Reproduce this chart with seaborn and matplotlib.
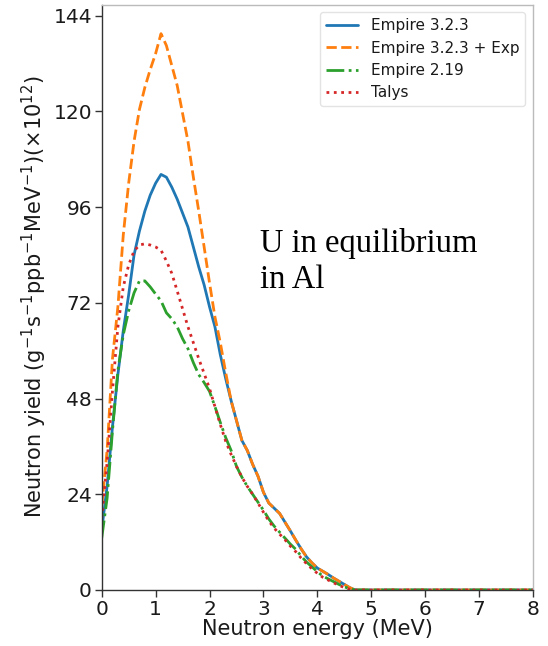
import matplotlib
matplotlib.use("Agg")
import matplotlib.pyplot as plt
import seaborn as sns
import pandas as pd

# ── data ──────────────────────────────────────────────────────────────────────
energy = [0.0, 0.1, 0.2, 0.3, 0.4, 0.5, 0.6, 0.7, 0.8, 0.9,
          1.0, 1.1, 1.2, 1.3, 1.4, 1.5, 1.6, 1.7, 1.8, 1.9,
          2.0, 2.1, 2.2, 2.3, 2.4, 2.5, 2.6, 2.7, 2.8, 2.9,
          3.0, 3.1, 3.2, 3.3, 3.4, 3.5, 3.6, 3.7, 3.8, 3.9,
          4.0, 4.1, 4.2, 4.3, 4.4, 4.5, 4.6, 4.7, 8.0]

empire323 = [15.0, 26.0, 41.0, 54.0, 65.0, 74.0, 84.0, 90.0, 95.0, 99.0,
             102.0, 104.2, 103.5, 101.0, 98.0, 94.5, 91.0, 86.0, 81.0, 76.5,
             71.0, 66.0, 59.0, 53.0, 47.5, 42.5, 37.5, 35.0, 31.5, 28.5,
             24.5, 21.8, 20.5, 19.2, 17.0, 14.8, 12.5, 10.3, 8.3, 6.8,
             5.5, 4.7, 3.9, 3.0, 2.2, 1.4, 0.6, 0.0, 0.0]

empire323_exp = [21.0, 35.0, 58.0, 71.0, 89.0, 102.0, 112.5, 120.5, 126.0, 130.5,
                 134.5, 139.5, 136.5, 131.5, 126.5, 119.5, 112.5, 103.5, 95.0, 86.0,
                 77.0, 68.5, 62.0, 54.5, 47.5, 42.5, 37.5, 35.0, 31.5, 28.5,
                 24.5, 21.8, 20.5, 19.2, 17.0, 14.8, 12.5, 10.3, 8.3, 6.8,
                 5.5, 4.7, 3.9, 3.0, 2.2, 1.4, 0.6, 0.0, 0.0]

empire219 = [13.0, 23.0, 40.0, 55.0, 64.0, 70.0, 74.5, 77.5, 77.5, 76.0,
             74.2, 72.5, 69.5, 68.0, 66.0, 63.0, 60.5, 57.0, 54.0, 52.0,
             49.8, 46.0, 42.0, 38.2, 35.0, 31.0, 28.3, 26.0, 24.0, 22.0,
             20.0, 17.8, 16.0, 14.5, 13.0, 11.5, 10.2, 8.5, 7.0, 5.8,
             4.6, 3.5, 2.8, 2.1, 1.4, 0.8, 0.3, 0.0, 0.0]

talys = [18.0, 32.0, 50.0, 66.0, 76.0, 81.5, 85.0, 86.5, 86.8, 86.5,
         86.0, 85.2, 82.5, 79.4, 75.0, 70.5, 66.0, 62.0, 58.0, 54.3,
         50.5, 46.0, 41.5, 37.3, 34.0, 31.0, 28.3, 26.0, 24.0, 21.8,
         19.5, 17.3, 15.5, 14.0, 12.6, 11.0, 9.6, 8.0, 6.6, 5.3,
         4.2, 3.2, 2.5, 1.8, 1.2, 0.6, 0.2, 0.0, 0.0]

labels = ["Empire 3.2.3", "Empire 3.2.3 + Exp", "Empire 2.19", "Talys"]
x_ticks = [0, 1, 2, 3, 4, 5, 6, 7, 8]
y_ticks = [0, 24, 48, 72, 96, 120, 144]

# ── style ─────────────────────────────────────────────────────────────────────
sns.set_theme(style="ticks")
plt.rcParams["font.family"] = ["DejaVu Sans"]
plt.rcParams["text.color"] = "#1a1a1a"
plt.rcParams["axes.labelcolor"] = "#1a1a1a"
plt.rcParams["xtick.color"] = "#1a1a1a"
plt.rcParams["ytick.color"] = "#1a1a1a"
pal = sns.color_palette("tab10")
dashes = ["-", "--", "-.", ":"]

fig = plt.figure(figsize=(5.48, 6.46), dpi=100)
ax = fig.add_axes([0.1856, 0.0867, 0.7870, 0.9063])

series = [empire323, empire323_exp, empire219, talys]
for vals, lab, col, ls in zip(series, labels, pal[:4], dashes):
    df = pd.DataFrame({"E": energy, "Y": vals})
    sns.lineplot(data=df, x="E", y="Y", ax=ax, color=col, linestyle=ls,
                 lw=2.0, label=lab)

ax.set_xlim(0, 8)
ax.set_ylim(0, 146.8)
ax.set_xticks(x_ticks)
ax.set_yticks(y_ticks)
ax.tick_params(labelsize=14.5, length=5, width=1, color="#333333", pad=2)
ax.set_xlabel("Neutron energy (MeV)", fontsize=15, labelpad=0)
ax.set_ylabel(r"Neutron yield (g$^{-1}$s$^{-1}$ppb$^{-1}$MeV$^{-1}$)($\times10^{12}$)",
              fontsize=15, labelpad=3)

for side in ["left", "bottom"]:
    ax.spines[side].set_color("#333333")
    ax.spines[side].set_linewidth(1.0)
for side in ["top", "right"]:
    ax.spines[side].set_visible(True)
    ax.spines[side].set_color("#bbbbbb")
    ax.spines[side].set_linewidth(1.0)

leg = ax.legend(loc="upper right", fontsize=11, frameon=True,
                borderaxespad=0.5, handlelength=2.1, labelspacing=0.48)
leg.get_frame().set_edgecolor("#dddddd")

ax.text(2.94, 84.8, "U in equilibrium", fontsize=23.5, color="black",
        family=["Liberation Serif"], va="baseline")
ax.text(2.94, 75.6, "in Al", fontsize=23.5, color="black",
        family=["Liberation Serif"], va="baseline")

fig.savefig("out.png", dpi=100)
